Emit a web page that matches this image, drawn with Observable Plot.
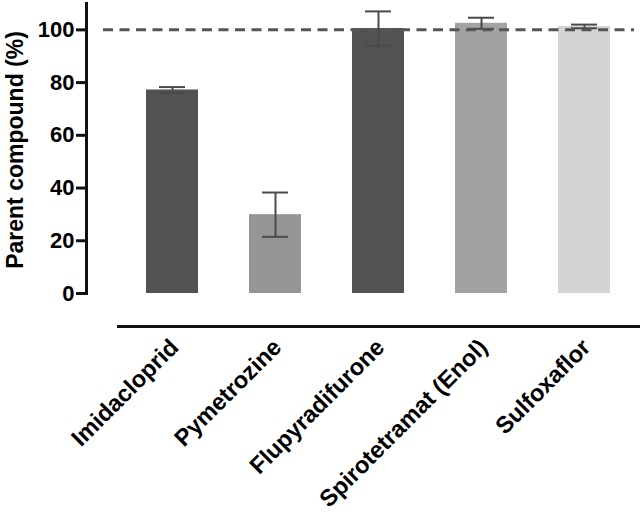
<!DOCTYPE html>
<html>
<head>
<meta charset="utf-8">
<script src="https://cdn.jsdelivr.net/npm/d3@7"></script>
<script src="https://cdn.jsdelivr.net/npm/@observablehq/plot@0.6"></script>
<style>
  html, body { margin: 0; padding: 0; background: #fff; }
  #chart svg { display: block; }
</style>
</head>
<body>
<div id="chart"></div>
<script>
const compounds = ["Imidacloprid", "Pymetrozine", "Flupyradifurone", "Spirotetramat (Enol)", "Sulfoxaflor"];
const means = [77.2, 29.9, 100.5, 102.5, 101.3];
const errors = [1.1, 8.4, 6.5, 2.1, 0.7];
const barColors = ["#525252", "#959595", "#525252", "#a2a2a2", "#d4d4d4"];
const yTicks = [0, 20, 40, 60, 80, 100];
const reference = [100];
const yTitle = "Parent compound (%)";

const data = compounds.map((c, i) => ({compound: c, mean: means[i], err: errors[i]}));
const font = "'Liberation Sans', Arial, Helvetica, sans-serif";

const chart = Plot.plot({
  width: 642,
  height: 516,
  marginLeft: 86,
  marginRight: 0,
  marginTop: 3,
  marginBottom: 190,
  style: {fontFamily: font, background: "#fff", color: "#000"},
  x: {domain: compounds, range: [93, 662], padding: 0.5},
  y: {domain: [0, 110], range: [293, 3]},
  color: {type: "ordinal", domain: compounds, range: barColors},
  marks: [
    Plot.barY(data, {x: "compound", y: "mean", fill: "compound"}),
    Plot.ruleX(data, {x: "compound", y1: d => d.mean - d.err, y2: d => d.mean + d.err, stroke: "#4a4a4a", strokeWidth: 2}),
    Plot.tickY(data, {x: "compound", y: d => d.mean + d.err, stroke: "#4a4a4a", strokeWidth: 2, insetLeft: 13, insetRight: 13}),
    Plot.tickY(data, {x: "compound", y: d => d.mean - d.err, stroke: "#4a4a4a", strokeWidth: 2, insetLeft: 13, insetRight: 13}),
    Plot.ruleY(reference, {stroke: "#555", strokeWidth: 3, strokeDasharray: "10,6.5", insetLeft: 17, insetRight: 8}),
    Plot.frame({anchor: "left", insetBottom: 33, stroke: "#111", strokeWidth: 3}),
    Plot.frame({anchor: "bottom", insetLeft: 32, insetRight: 4, stroke: "#111", strokeWidth: 3}),
    Plot.axisY({ticks: yTicks, tickSize: 10, tickPadding: 2, strokeWidth: 3, stroke: "#111",
      fontSize: 22, fontWeight: "bold", tickFormat: d => d,
      label: yTitle, labelArrow: "none", labelAnchor: "center", labelOffset: 80}),
    Plot.axisX({tickSize: 0, tickPadding: 17, tickRotate: -45, fontSize: 23.5, fontWeight: "bold", dx: 2, label: null})
  ]
});
document.getElementById("chart").appendChild(chart);

// style the y-axis title like the reference (bold, no arrow, centred on the 0–110 span)
const labelGroup = chart.querySelector('[aria-label="y-axis label"]');
if (labelGroup) {
  labelGroup.querySelectorAll("text").forEach(t => {
    t.textContent = yTitle;
    t.setAttribute("font-weight", "bold");
    t.setAttribute("font-size", 23);
    t.setAttribute("fill", "#000");
  });
  const prev = labelGroup.getAttribute("transform") || "";
  labelGroup.setAttribute("transform", prev + " translate(0,-15)");
}
</script>
</body>
</html>
